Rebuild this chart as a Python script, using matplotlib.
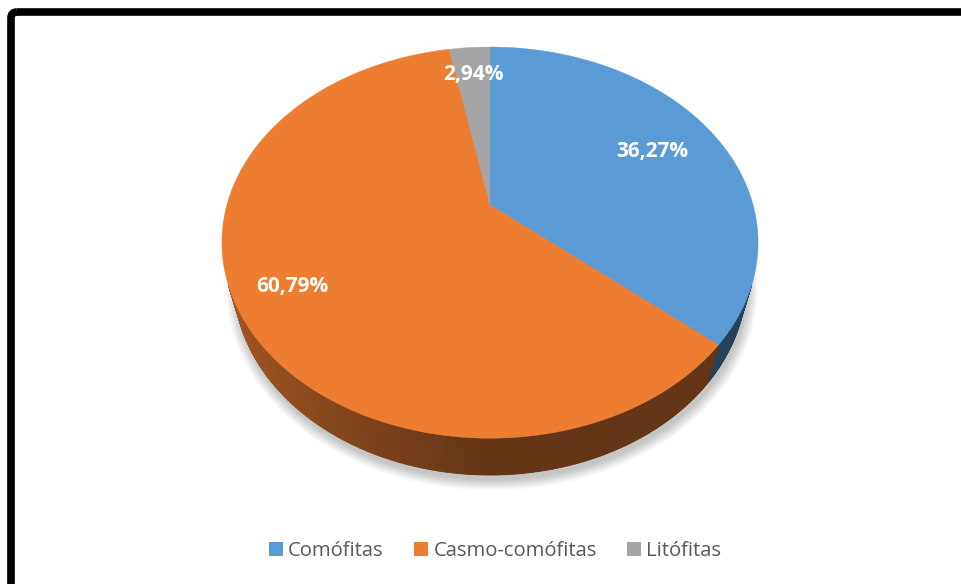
import numpy as np
import matplotlib.pyplot as plt
from matplotlib.patches import Polygon, FancyBboxPatch, Rectangle

categories = ['Comófitas', 'Casmo-comófitas', 'Litófitas']
shares = [36.27, 60.79, 2.94]
colors = ['#5b9bd5', '#ed7d31', '#a5a5a5']

# perspective camera for the 3D pie (pixel units)
CX, CY = 490, 205
F, D = 955.0, 3.63
ELEV = np.arcsin(188.3 / 263.0)
DEPTH = 0.228
LABEL_R = [0.72, 0.8, 0.8]


def project(x, y, z):
    zc = D - y * np.cos(ELEV) - z * np.sin(ELEV)
    sx = CX + F * x / zc
    sy = CY + F * (y * np.sin(ELEV) - z * np.cos(ELEV)) / zc
    return sx, sy


def rim(theta, z, r=1.0):
    # theta measured clockwise from 12 o'clock
    return project(r * np.sin(theta), -r * np.cos(theta), z)


def shade(color, theta):
    rgb = np.array(plt.matplotlib.colors.to_rgb(color))
    light = max(0.0, -np.sin(theta))
    return tuple(rgb * (0.42 + 0.28 * light))


fig = plt.figure(figsize=(9.61, 5.84), dpi=100)
ax = fig.add_axes([0, 0, 1, 1])
ax.set_xlim(0, 961)
ax.set_ylim(584, 0)
ax.axis('off')

fracs = np.array(shares) / sum(shares)
edges = np.concatenate([[0], np.cumsum(fracs)]) * 2 * np.pi

# soft drop shadow under the base
full = np.linspace(0, 2 * np.pi, 300)
for k in range(10):
    sx, sy = rim(full, -DEPTH, 1.0 + 0.004 * k)
    ax.add_patch(Polygon(np.column_stack([sx + 2, sy + 5]), closed=True,
                         fc='#000000', ec='none', alpha=0.025, zorder=1))

# visible part of the side wall
t_min = 1.0 / (D * np.cos(ELEV))
vis_lo = np.arccos(-t_min)
vis_hi = 2 * np.pi - vis_lo
for i in range(len(shares)):
    a0 = max(edges[i], vis_lo)
    a1 = min(edges[i + 1], vis_hi)
    if a1 <= a0:
        continue
    steps = np.linspace(a0, a1, max(3, int((a1 - a0) / np.radians(0.5))))
    for t0, t1 in zip(steps[:-1], steps[1:]):
        tt = np.array([t0, t1])
        xt, yt = rim(tt, 0)
        xb, yb = rim(tt[::-1], -DEPTH)
        c = shade(colors[i], 0.5 * (t0 + t1))
        ax.add_patch(Polygon(np.column_stack([np.r_[xt, xb], np.r_[yt, yb]]),
                             closed=True, fc=c, ec=c, lw=0.6, zorder=2))

# top faces
for i in range(len(shares)):
    tt = np.linspace(edges[i], edges[i + 1], 200)
    xs, ys = rim(tt, 0)
    px, py = project(0, 0, 0)
    ax.add_patch(Polygon(np.column_stack([np.r_[px, xs], np.r_[py, ys]]),
                         closed=True, fc=colors[i], ec=colors[i], lw=0.3, zorder=3))

# percentage labels
for i, v in enumerate(shares):
    mid = 0.5 * (edges[i] + edges[i + 1])
    lx, ly = rim(mid, 0, LABEL_R[i])
    ax.text(lx, ly, f'{v:.2f}%'.replace('.', ','), color='white', fontsize=15,
            fontweight='bold', family='Open Sans', ha='center', va='center', zorder=4)

# chart frame
ax.add_patch(FancyBboxPatch((11, 12), 1000, 620, boxstyle='round,pad=0,rounding_size=6',
                            fc='none', ec='black', lw=5.5, zorder=5))

handles = [Rectangle((0, 0), 1, 1, fc=c, ec='none') for c in colors]
leg = fig.legend(handles, categories, loc='center', bbox_to_anchor=(495 / 961, 1 - 551 / 584),
                 ncol=3, frameon=False, handlelength=0.7, handleheight=0.7,
                 handletextpad=0.25, columnspacing=1.5,
                 prop={'family': 'Open Sans', 'size': 14.6})
for t in leg.get_texts():
    t.set_color('#595959')

fig.savefig('out.png', dpi=100)
